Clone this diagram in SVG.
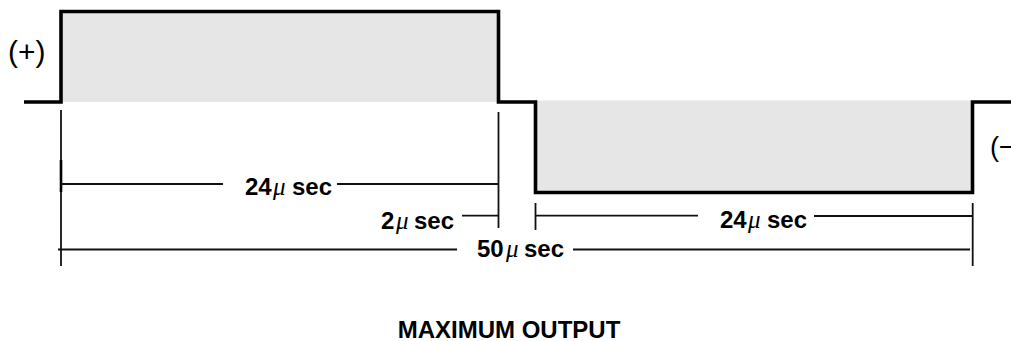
<svg xmlns="http://www.w3.org/2000/svg" width="1011" height="341" viewBox="0 0 1011 341">
<style>
.wave{fill:none;stroke:#000;stroke-width:3.6;stroke-linejoin:miter}
.fill{fill:#e6e6e6;stroke:none}
.dim{stroke:#111;stroke-width:1.8;fill:none}
.lbl{font-family:"Liberation Sans",Arial,sans-serif;font-weight:bold;font-size:24px;fill:#000}
.mu{font-family:"Liberation Serif","Times New Roman",serif;font-style:italic;font-weight:normal;font-size:25px}
.pol{font-family:"Liberation Sans",Arial,sans-serif;font-size:30px;fill:#000}
.title{font-family:"Liberation Sans",Arial,sans-serif;font-weight:bold;font-size:24px;fill:#000}
</style>
<rect width="1011" height="341" fill="#fff"/>
<g id="positive-pulse">
<rect class="fill" x="61" y="11.5" width="437.5" height="90.5"/>
</g>
<g id="negative-pulse">
<rect class="fill" x="535.5" y="100.5" width="437" height="92"/>
</g>
<g id="waveform">
<path class="wave" d="M24,102 H61 V11.5 H498.5 V102 H535.5 V192.5 H972.5 V102 H1011"/>
</g>
<g id="labels-polarity">
<text class="pol" x="8" y="62">(+)</text>
<text class="pol" x="990" y="156" style="font-size:27px">(−</text>
</g>
<g id="connectors">
<line class="dim" x1="61" y1="110" x2="61" y2="266"/>
<line x1="61" y1="160" x2="61" y2="192" stroke="#000" stroke-width="2.6"/>
<line class="dim" x1="498.5" y1="112" x2="498.5" y2="228"/>
<line class="dim" x1="535.5" y1="203" x2="535.5" y2="230"/>
<line class="dim" x1="972.7" y1="203" x2="972.7" y2="266"/>
<line class="dim" x1="61" y1="184" x2="223" y2="184"/>
<line class="dim" x1="337" y1="184" x2="498.5" y2="184"/>
<line class="dim" x1="462" y1="215.7" x2="498.5" y2="215.7"/>
<line class="dim" x1="535.5" y1="215.7" x2="698" y2="215.7"/>
<line class="dim" x1="814" y1="216" x2="972.7" y2="216"/>
<line class="dim" x1="58" y1="249.5" x2="457" y2="249.5"/>
<line class="dim" x1="573" y1="249.5" x2="970" y2="249.5"/>
</g>
<g id="dim-24-left">
<text class="lbl" y="195"><tspan x="245">24</tspan><tspan class="mu" x="273">μ</tspan><tspan x="292">sec</tspan></text>
</g>
<g id="dim-2">
<text class="lbl" y="229"><tspan x="381">2</tspan><tspan class="mu" x="396">μ</tspan><tspan x="414">sec</tspan></text>
</g>
<g id="dim-24-right">
<text class="lbl" y="228"><tspan x="720">24</tspan><tspan class="mu" x="748">μ</tspan><tspan x="767">sec</tspan></text>
</g>
<g id="dim-50">
<text class="lbl" y="256.7"><tspan x="477">50</tspan><tspan class="mu" x="506">μ</tspan><tspan x="524">sec</tspan></text>
</g>
<g id="title">
<text class="title" x="509" y="337.5" text-anchor="middle">MAXIMUM OUTPUT</text>
</g>
</svg>
